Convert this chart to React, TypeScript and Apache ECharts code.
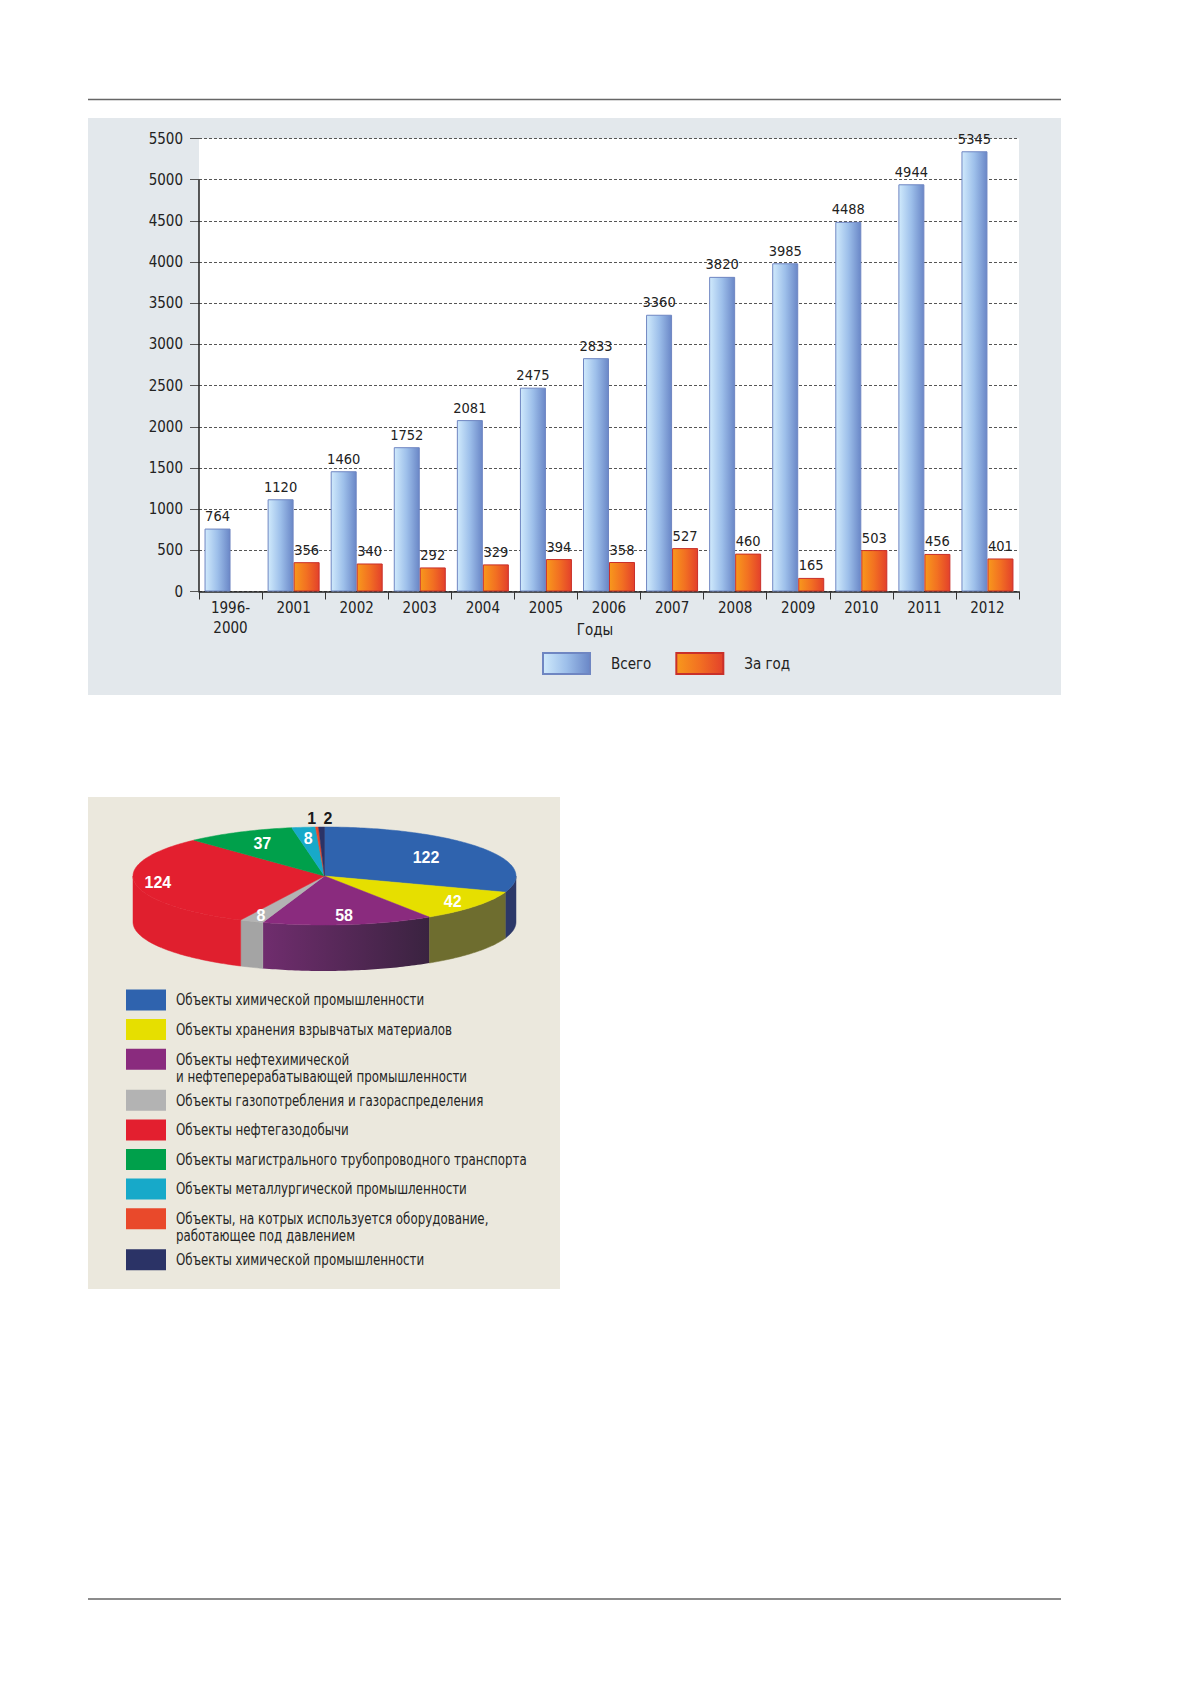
import React, { useEffect, useRef } from "react";
import * as echarts from "echarts";

// ---------- Data ----------
const years = ["1996-\n2000", "2001", "2002", "2003", "2004", "2005", "2006", "2007", "2008", "2009", "2010", "2011", "2012"];
const totalValues = [764, 1120, 1460, 1752, 2081, 2475, 2833, 3360, 3820, 3985, 4488, 4944, 5345];
const yearlyValues: (number | null)[] = [null, 356, 340, 292, 329, 394, 358, 527, 460, 165, 503, 456, 401];
const seriesNames = ["Всего", "За год"];
const xAxisTitle = "Годы";
const yMin = 0;
const yMax = 5500;
const yStep = 500;

const pieValues = [122, 42, 58, 8, 124, 37, 8, 1, 2];
const pieCategories = [
  "Объекты химической промышленности",
  "Объекты хранения взрывчатых материалов",
  "Объекты нефтехимической\nи нефтеперерабатывающей промышленности",
  "Объекты газопотребления и газораспределения",
  "Объекты нефтегазодобычи",
  "Объекты магистрального трубопроводного транспорта",
  "Объекты металлургической промышленности",
  "Объекты, на котрых используется оборудование,\nработающее под давлением",
  "Объекты химической промышленности",
];

// ---------- Styles ----------
const COND = "'Liberation Sans Narrow', 'DejaVu Sans Condensed', 'Arial Narrow', sans-serif";
const BOLD = "'Liberation Sans', Arial, sans-serif";
const pieTopColors = ["#2f63ae", "#e6df00", "#8a2b7e", "#b3b3b3", "#e31f2f", "#00a04b", "#17a9c9", "#e9492b", "#2b3366"];
const pieSideColors: any[] = [
  "#2c3868",
  "#6e6d2f",
  new echarts.graphic.LinearGradient(0, 0, 1, 0, [
    { offset: 0, color: "#702d6e" },
    { offset: 1, color: "#3a2340" },
  ]),
  "#a4a4a4",
  "#e01f2e",
  "#007a3a",
  "#128aa5",
  "#c23a22",
  "#22284f",
];
const pieLabelRadius = [0.65, 0.85, 0.82, 0.87, 0.88, 0.73, 0.78, 1.18, 1.18];
const pieLabelDx = [0, 0, 0, 0, 0, 0, 0, -4, 7];
const PIE = { cx: 324.5, cy: 876, rx: 191.5, ry: 49, depth: 46 };

export default function App() {
  const ref = useRef<HTMLDivElement>(null);

  useEffect(() => {
    if (!ref.current) return;
    document.body.style.margin = "0";
    const chart = echarts.init(ref.current, undefined, { renderer: "svg" });

    const total = pieValues.reduce((a, b) => a + b, 0);
    const startAngles: number[] = [];
    let acc = 0;
    pieValues.forEach((v) => {
      startAngles.push((acc / total) * 360);
      acc += v;
    });

    const pt = (deg: number, dy = 0) => {
      const r = (deg * Math.PI) / 180;
      return [PIE.cx + PIE.rx * Math.sin(r), PIE.cy - PIE.ry * Math.cos(r) + dy];
    };
    const arc = (from: number, to: number, dy: number) => {
      const pts: number[][] = [];
      const n = Math.max(2, Math.ceil(to - from));
      for (let k = 0; k <= n; k++) pts.push(pt(from + ((to - from) * k) / n, dy));
      return pts;
    };

    // Pie legend (graphic)
    const legendEls: any[] = [];
    let rowY = 1000;
    pieCategories.forEach((name, i) => {
      const lines = name.split("\n").length;
      legendEls.push({
        type: "rect",
        shape: { x: 126, y: rowY - 10.5, width: 40, height: 21 },
        style: { fill: pieTopColors[i] },
        z: 5,
      });
      legendEls.push({
        type: "text",
        x: 176,
        y: rowY - 8.5,
        scaleX: 0.88,
        style: {
          text: name,
          fill: "#242424",
          fontSize: 15,
          fontFamily: COND,
          lineHeight: 17,
          verticalAlign: "top",
          align: "left",
        },
        z: 5,
      });
      rowY += 29.6 + (lines - 1) * 11.5;
    });

    const blueGrad = new echarts.graphic.LinearGradient(0, 0, 1, 0, [
      { offset: 0, color: "#d0eafc" },
      { offset: 0.5, color: "#9dbfea" },
      { offset: 1, color: "#6a87c7" },
    ]);
    const orangeGrad = new echarts.graphic.LinearGradient(0, 0, 1, 0, [
      { offset: 0, color: "#f8981c" },
      { offset: 0.5, color: "#f27022" },
      { offset: 1, color: "#e3412b" },
    ]);

    const option: any = {
      animation: false,
      textStyle: { fontFamily: COND },
      graphic: [
        {
          elements: [
            { id: "topLine", type: "line", shape: { x1: 88, y1: 99.5, x2: 1061, y2: 99.5 }, style: { stroke: "#666", lineWidth: 1.5 }, z: -10 },
            { id: "bottomLine", type: "line", shape: { x1: 88, y1: 1599, x2: 1061, y2: 1599 }, style: { stroke: "#666", lineWidth: 1.5 }, z: -10 },
            { id: "barPanel", type: "rect", shape: { x: 88, y: 118, width: 973, height: 577 }, style: { fill: "#e3e8ec" }, z: -10 },
            { id: "piePanel", type: "rect", shape: { x: 88, y: 797, width: 472, height: 492 }, style: { fill: "#ebe8dd" }, z: -10 },
            {
              id: "xName",
              type: "text",
              x: 595,
              y: 630,
              style: { text: xAxisTitle, fontSize: 15, fontFamily: COND, fill: "#222", align: "center", verticalAlign: "middle" },
              z: 5,
            },
            ...legendEls,
          ],
        },
      ],
      grid: {
        left: 199,
        top: 138.5,
        width: 820,
        height: 453,
        show: true,
        backgroundColor: "#ffffff",
        borderWidth: 0,
        containLabel: false,
      },
      legend: {
        data: seriesNames,
        left: 542,
        top: 652,
        padding: 0,
        itemWidth: 47,
        itemHeight: 21,
        itemGap: 24,
        icon: "rect",
        textStyle: { fontSize: 15, color: "#222", fontFamily: COND, padding: [0, 0, 0, 16] },
      },
      xAxis: {
        type: "category",
        data: years,
        gridIndex: 0,
        axisLine: { show: true, lineStyle: { color: "#222", width: 1.5 } },
        axisTick: { show: true, length: 8, interval: 0, lineStyle: { color: "#333", width: 1 } },
        axisLabel: { fontSize: 15, color: "#222", fontFamily: COND, margin: 6, lineHeight: 20, interval: 0 },
        splitLine: { show: false },
      },
      yAxis: {
        type: "value",
        min: yMin,
        max: yMax,
        interval: yStep,
        axisLine: { show: false },
        axisTick: { show: true, length: 9, lineStyle: { color: "#555", width: 1 } },
        axisLabel: { fontSize: 15, color: "#222", fontFamily: COND, margin: 16, formatter: (v: number) => String(v) },
        splitLine: { show: true, lineStyle: { color: "#555", width: 1, type: [3, 2] } },
      },
      series: [
        {
          name: seriesNames[0],
          type: "bar",
          data: totalValues,
          barWidth: 26,
          barGap: "0%",
          itemStyle: { color: blueGrad, borderColor: "#6f86c2", borderWidth: 1 },
          label: { show: true, position: "top", distance: 5, fontSize: 14.5, color: "#222", fontFamily: COND },
        },
        {
          name: seriesNames[1],
          type: "bar",
          data: yearlyValues,
          barWidth: 26,
          barGap: "0%",
          itemStyle: { color: orangeGrad, borderColor: "#c9302a", borderWidth: 1 },
          label: { show: true, position: "top", distance: 5, fontSize: 14.5, color: "#222", fontFamily: COND },
        },
        {
          name: "pie3d",
          type: "custom",
          coordinateSystem: "none",
          data: pieValues,
          silent: true,
          renderItem: (params: any, api: any) => {
            const i = params.dataIndex;
            const v = api.value(0) as number;
            const a0 = startAngles[i];
            const a1 = a0 + (v / total) * 360;
            const children: any[] = [];
            const s0 = Math.max(a0, 90);
            const s1 = Math.min(a1, 270);
            if (s1 > s0) {
              const top = arc(s0, s1, 0);
              const bottom = arc(s0, s1, PIE.depth).reverse();
              const side = pieSideColors[i];
              children.push({
                type: "polygon",
                shape: { points: [...top, ...bottom] },
                style: { fill: side, stroke: typeof side === "string" ? side : "none", lineWidth: 0.5 },
              });
            }
            children.push({
              type: "polygon",
              shape: { points: [[PIE.cx, PIE.cy], ...arc(a0, a1, 0)] },
              style: { fill: pieTopColors[i], stroke: pieTopColors[i], lineWidth: 0.5 },
            });
            const mid = (a0 + a1) / 2;
            const k = pieLabelRadius[i];
            const r = (mid * Math.PI) / 180;
            const lx = PIE.cx + PIE.rx * k * Math.sin(r) + pieLabelDx[i];
            const ly = PIE.cy - PIE.ry * k * Math.cos(r);
            children.push({
              type: "text",
              z2: 100,
              x: lx,
              y: ly,
              style: {
                text: String(v),
                fill: k > 1 ? "#1a1a1a" : "#ffffff",
                fontSize: 16,
                fontWeight: "bold",
                fontFamily: BOLD,
                align: "center",
                verticalAlign: "middle",
              },
            });
            return { type: "group", children };
          },
        },
      ],
    };

    chart.setOption(option);

    const yTop = chart.convertToPixel({ yAxisIndex: 0 }, 5000) as number;
    const yBottom = chart.convertToPixel({ yAxisIndex: 0 }, 0) as number;
    const xLeft = chart.convertToPixel({ xAxisIndex: 0 }, years[0]) as number;
    const catW = (chart.convertToPixel({ xAxisIndex: 0 }, years[1]) as number) - xLeft;
    const axisX = xLeft - catW / 2;
    chart.setOption({
      graphic: [
        {
          elements: [
            {
              id: "yAxisLine",
              type: "line",
              shape: { x1: axisX, y1: yTop, x2: axisX, y2: yBottom },
              style: { stroke: "#222", lineWidth: 1.5 },
              z: 3,
            },
          ],
        },
      ],
    });

    return () => chart.dispose();
  }, []);

  return <div ref={ref} style={{ position: "absolute", left: 0, top: 0, width: 1179, height: 1681, background: "#ffffff" }} />;
}
